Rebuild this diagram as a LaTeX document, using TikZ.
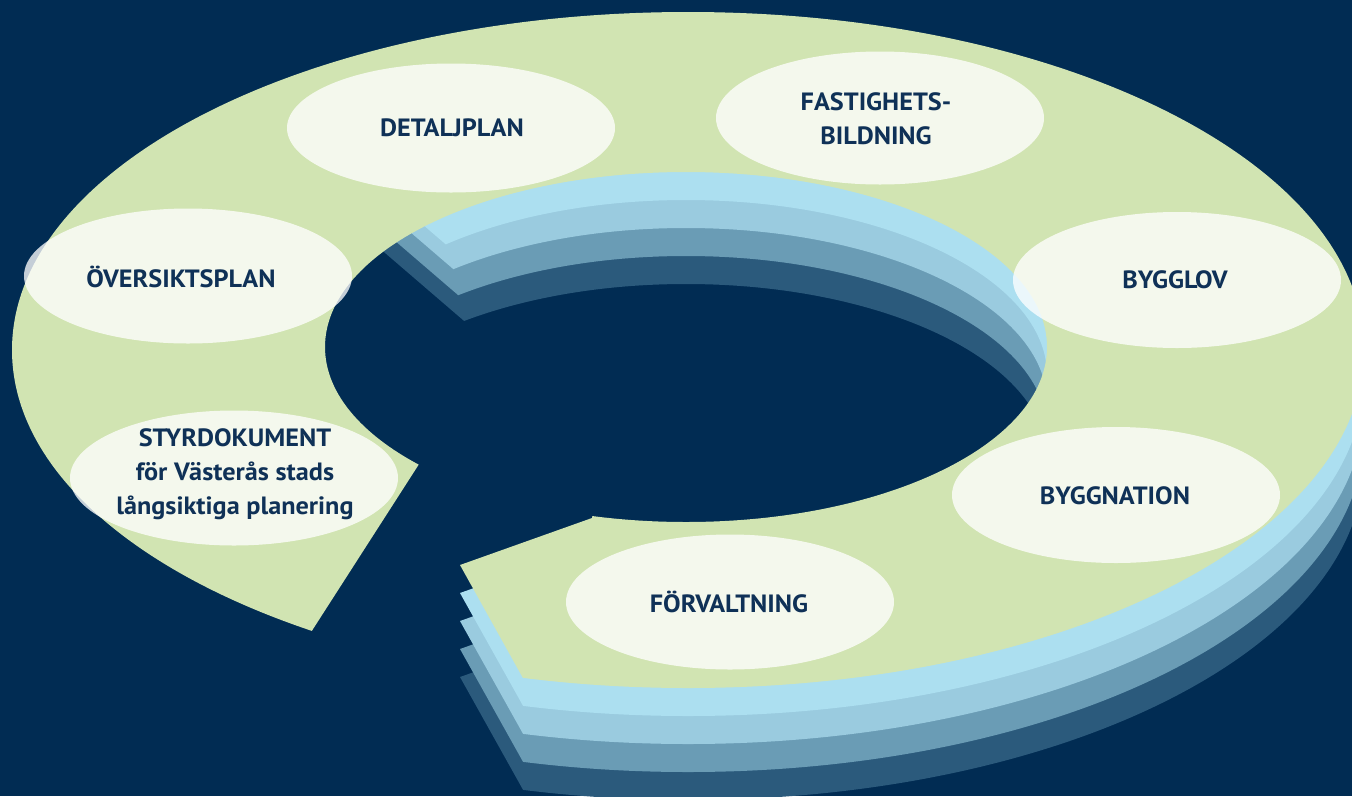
\documentclass[tikz,border=0pt]{standalone}
\usepackage{fontspec}
\setmainfont{PT Sans}[FakeStretch=1.05]
\usetikzlibrary{shapes.geometric}
\definecolor{navy}{HTML}{012C53}
\definecolor{ringgreen}{HTML}{D1E4B2}
\definecolor{layA}{HTML}{ACDFF0}
\definecolor{layB}{HTML}{9ACBDF}
\definecolor{layC}{HTML}{6A9CB5}
\definecolor{layD}{HTML}{2B5A7C}
\definecolor{txt}{HTML}{0F3157}
\tikzset{
  bubble/.style={ellipse, fill=white, fill opacity=0.77,
    minimum width=328pt, minimum height=134pt, inner sep=0pt},
  lbl/.style={text=txt, inner sep=0pt,
    font=\fontsize{25}{34}\selectfont\bfseries, align=center}
}
\begin{document}
\begin{tikzpicture}[x=1pt,y=-1pt]
\fill[navy] (0,0) rectangle (1352,796);
\useasboundingbox (0,0) rectangle (1352,796);
% blue layers (3D thickness)
\foreach \k/\col/\vx/\vy in {4/layD/463/320, 3/layC/458/295, 2/layB/452/268, 1/layA/443/242}{
  \pgfmathsetmacro\dy{28*\k}
  \begin{scope}
    \clip ({\vx-300},-100) -- (1500,-100) -- (1500,900) -- (555,900) -- (555,{735+\dy})
      -- (460,{565+\dy}) -- (592,{518+\dy}) -- (620,430) -- ({\vx+20},{\vy+17.2})
      -- ({\vx-300},{\vy-258}) -- cycle;
    \fill[\col, even odd rule] (688,{350+\dy}) ellipse [x radius=676pt, y radius=338pt]
      (686,{347+\dy}) ellipse [x radius=361pt, y radius=175pt];
  \end{scope}
}
% green top ring with gap
\begin{scope}
  \clip (-100,-100) -- (1500,-100) -- (1500,900) -- (560,900) -- (553,732) -- (460,565)
    -- (592,518) -- (600,470) -- (448,419) -- (297,654) -- (297,900) -- (-100,900) -- cycle;
  \fill[ringgreen, even odd rule] (688,350) ellipse [x radius=676pt, y radius=338pt]
    (686,347) ellipse [x radius=361pt, y radius=175pt];
\end{scope}
% bubbles
\node[bubble, minimum height=129pt] (detalj) at (451,128) {};
\node[bubble, minimum height=133pt] (fastighet) at (880,118) {};
\node[bubble, minimum height=136pt] (bygglov) at (1177,280) {};
\node[bubble, minimum height=135pt] (oversikt) at (188,276) {};
\node[bubble, minimum height=135pt] (styr) at (234,478) {};
\node[bubble, minimum height=136pt] (byggnation) at (1116,495) {};
\node[bubble, minimum height=135pt] (forvalt) at (730,602) {};
% labels
\node[lbl] (detalj-t) at (452,128) {DETALJPLAN};
\node[lbl] (fastighet-t) at (876,119) {FASTIGHETS-\\BILDNING};
\node[lbl] (bygglov-t) at (1175,280) {BYGGLOV};
\node[lbl] (oversikt-t) at (181,277) {ÖVERSIKTSPLAN};
\node[lbl] (styr-t) at (235,474) {STYRDOKUMENT\\för Västerås stads\\långsiktiga planering};
\node[lbl] (byggnation-t) at (1115,496) {BYGGNATION};
\node[lbl] (forvalt-t) at (729,602) {FÖRVALTNING};
\end{tikzpicture}
\end{document}
